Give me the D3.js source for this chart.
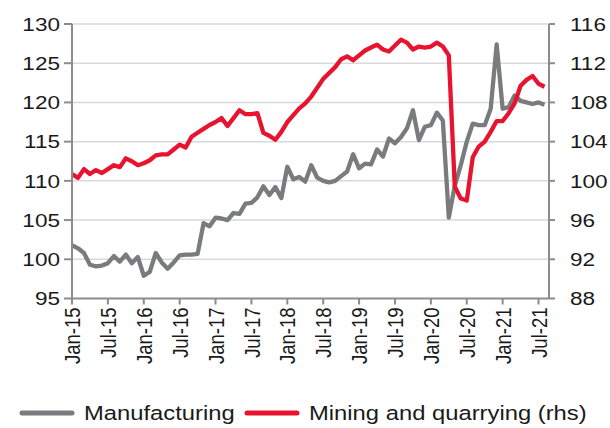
<!DOCTYPE html>
<html>
<head>
<meta charset="utf-8">
<script src="https://cdn.jsdelivr.net/npm/d3@7"></script>
<style>
  html, body { margin: 0; padding: 0; background: #ffffff; }
  svg { display: block; }
  text { font-family: "Liberation Sans", Arial, sans-serif; fill: #1a1a1a; }
</style>
</head>
<body>
<svg id="chart" width="610" height="428"></svg>
<script>
// ---- Data (monthly, Jan-15 .. Aug-21) ----
const startYear = 2015;
const manufacturing = [
  101.8, 101.4, 100.8, 99.3, 99.1, 99.2, 99.5, 100.4, 99.7, 100.6, 99.5, 100.3,
  97.9, 98.4, 100.8, 99.6, 98.8, 99.6, 100.5, 100.6, 100.6, 100.7, 104.6, 104.2,
  105.3, 105.2, 105.0, 105.9, 105.8, 107.1, 107.2, 107.9, 109.3, 108.2, 109.2, 107.8,
  111.8, 110.2, 110.5, 109.9, 112.0, 110.4, 110.0, 109.8, 110.0, 110.6, 111.2, 113.4,
  111.6, 112.2, 112.1, 114.0, 113.1, 115.4, 114.8, 115.6, 116.7, 119.0, 115.2, 116.9,
  117.1, 118.7, 117.7, 105.3, 109.4, 112.0, 115.0, 117.3, 117.1, 117.1, 119.2, 127.4,
  119.2, 119.4, 120.9, 120.2, 120.0, 119.8, 120.0, 119.7
];
const mining = [
  100.7, 100.3, 101.2, 100.7, 101.1, 100.8, 101.2, 101.6, 101.4, 102.3, 102.0, 101.6,
  101.8, 102.1, 102.6, 102.7, 102.7, 103.2, 103.7, 103.4, 104.5, 104.9, 105.3, 105.7,
  106.0, 106.4, 105.6, 106.4, 107.2, 106.8, 106.8, 106.9, 104.9, 104.6, 104.2, 105.0,
  106.0, 106.7, 107.4, 107.9, 108.6, 109.5, 110.4, 111.0, 111.6, 112.4, 112.7, 112.3,
  112.8, 113.3, 113.6, 113.9, 113.4, 113.2, 113.8, 114.4, 114.1, 113.4, 113.7, 113.6,
  113.7, 114.1, 113.7, 112.8, 99.4, 98.2, 98.0, 102.4, 103.5, 104.0, 105.0, 106.1,
  106.1, 106.9, 107.9, 109.7, 110.3, 110.7, 109.9, 109.6
];
const leftTicks = [95, 100, 105, 110, 115, 120, 125, 130];
const rightTicks = [88, 92, 96, 100, 104, 108, 112, 116];
const monthNames = ["Jan","Feb","Mar","Apr","May","Jun","Jul","Aug","Sep","Oct","Nov","Dec"];
const xTickIdx = d3.range(0, 79, 6);
const seriesNames = ["Manufacturing", "Mining and quarrying (rhs)"];
const colors = ["#7a7b7e", "#e8132f"];

// ---- Layout ----
const svg = d3.select("#chart");
const pL = 72, pR = 549, pT = 24, pB = 298.5;
const SX = 1.22, FS = 18.5, FSL = 19.5;

const x = d3.scaleLinear().domain([0, 79.75]).range([pL, pR]);
const yL = d3.scaleLinear().domain([95, 130]).range([pB, pT]);
const yR = d3.scaleLinear().domain([88, 116]).range([pB, pT]);

// gridlines
svg.append("g").selectAll("line").data(leftTicks.slice(1)).join("line")
  .attr("x1", pL).attr("x2", pR)
  .attr("y1", d => yL(d)).attr("y2", d => yL(d))
  .attr("stroke", "#d9d9d9").attr("stroke-width", 1.5);

// lines
const lineL = d3.line().x((d, i) => x(i)).y(d => yL(d)).curve(d3.curveLinear);
const lineR = d3.line().x((d, i) => x(i)).y(d => yR(d)).curve(d3.curveLinear);
svg.append("path").datum(manufacturing).attr("d", lineL)
  .attr("fill", "none").attr("stroke", colors[0]).attr("stroke-width", 4.3)
  .attr("stroke-linejoin", "round");
svg.append("path").datum(mining).attr("d", lineR)
  .attr("fill", "none").attr("stroke", colors[1]).attr("stroke-width", 4.3)
  .attr("stroke-linejoin", "round");

// axes lines
const axisColor = "#8c8c8c";
const ax = svg.append("g").attr("stroke", axisColor).attr("stroke-width", 2);
ax.append("line").attr("x1", pL).attr("x2", pL).attr("y1", pT).attr("y2", pB);
ax.append("line").attr("x1", pR).attr("x2", pR).attr("y1", pT).attr("y2", pB);
ax.append("line").attr("x1", pL).attr("x2", pR).attr("y1", pB).attr("y2", pB);
ax.selectAll(".lt").data(leftTicks).join("line").attr("class", "lt")
  .attr("x1", pL - 8).attr("x2", pL).attr("y1", d => yL(d)).attr("y2", d => yL(d));
ax.selectAll(".rt").data(rightTicks).join("line").attr("class", "rt")
  .attr("x1", pR).attr("x2", pR + 6).attr("y1", d => yR(d)).attr("y2", d => yR(d));
ax.selectAll(".xt").data(xTickIdx).join("line").attr("class", "xt")
  .attr("x1", d => x(d)).attr("x2", d => x(d)).attr("y1", pB).attr("y2", pB + 6);

// left labels
svg.append("g").selectAll("g").data(leftTicks).join("g")
  .attr("transform", d => `translate(${pL - 12},${yL(d)}) scale(${SX},1)`)
  .append("text").attr("text-anchor", "end").attr("dy", "0.36em")
  .style("font-size", FS + "px").text(d => d);

// right labels
svg.append("g").selectAll("g").data(rightTicks).join("g")
  .attr("transform", d => `translate(${pR + 21},${yR(d)}) scale(${SX},1)`)
  .append("text").attr("text-anchor", "start").attr("dy", "0.36em")
  .style("font-size", FS + "px").text(d => d);

// x labels (rotated)
const fmt = i => monthNames[i % 12] + "-" + String((startYear + Math.floor(i / 12)) % 100).padStart(2, "0");
svg.append("g").selectAll("g").data(xTickIdx).join("g")
  .attr("transform", d => `translate(${x(d)},${pB + 6}) scale(${SX},1) rotate(-90)`)
  .append("text").attr("text-anchor", "end").attr("dy", "0.36em").attr("x", -3)
  .style("font-size", FS + "px").text(d => fmt(d));

// legend
const legY = 413;
const leg = [
  { x1: 22, x2: 72, tx: 84 },
  { x1: 247, x2: 297, tx: 309 }
];
leg.forEach((l, i) => {
  svg.append("line").attr("x1", l.x1).attr("x2", l.x2).attr("y1", legY).attr("y2", legY)
    .attr("stroke", colors[i]).attr("stroke-width", 5).attr("stroke-linecap", "round");
  svg.append("g").attr("transform", `translate(${l.tx},${legY}) scale(${SX},1)`)
    .append("text").attr("dy", "0.36em").style("font-size", FSL + "px").text(seriesNames[i]);
});
</script>
</body>
</html>
